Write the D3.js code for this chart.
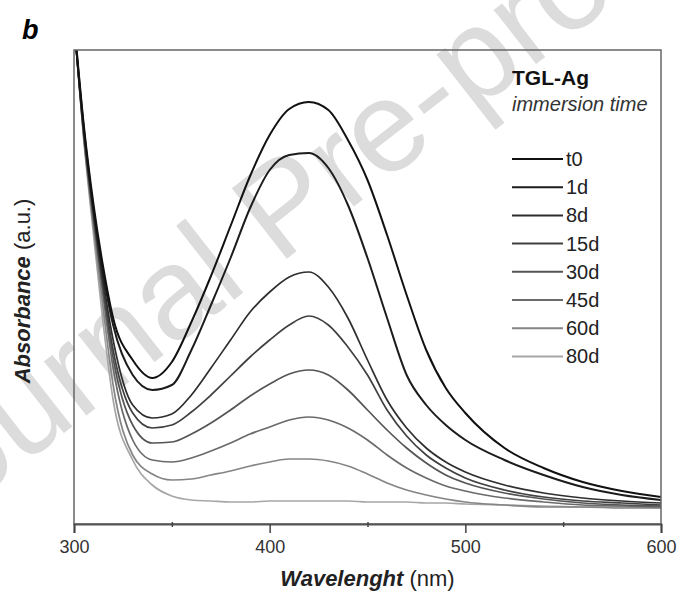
<!DOCTYPE html>
<html>
<head>
<meta charset="utf-8">
<script src="https://cdn.jsdelivr.net/npm/d3@7"></script>
<style>
  body { margin: 0; background: #fff; }
  text { font-family: "Liberation Sans", Arial, sans-serif; }
</style>
</head>
<body>
<script>
// wavelengths (nm) shared by every spectrum
const wavelengths = [300, 305, 310, 315, 320, 330, 340, 350, 360, 370, 380, 390, 400, 410,
                     420, 430, 440, 450, 460, 470, 480, 490, 500, 520, 540, 560, 580, 600];

// absorbance (a.u.)
const t0  = [5.04, 3.99, 3.19, 2.56, 2.06, 1.64, 1.46, 1.62, 2.02, 2.48, 2.98, 3.48, 3.89, 4.15,
             4.22, 4.14, 3.84, 3.44, 2.89, 2.29, 1.74, 1.36, 1.11, 0.76, 0.56, 0.42, 0.33, 0.27];
const d1  = [5.02, 3.96, 3.14, 2.49, 1.99, 1.49, 1.34, 1.39, 1.74, 2.19, 2.66, 3.16, 3.54, 3.69,
             3.71, 3.56, 3.19, 2.66, 2.06, 1.49, 1.19, 0.99, 0.84, 0.64, 0.49, 0.37, 0.29, 0.24];
const d8  = [5.02, 3.94, 3.12, 2.42, 1.84, 1.19, 1.06, 1.10, 1.29, 1.56, 1.84, 2.12, 2.32, 2.47,
             2.52, 2.37, 2.06, 1.64, 1.24, 0.96, 0.76, 0.62, 0.52, 0.39, 0.31, 0.26, 0.23, 0.21];
const d15 = [5.02, 3.92, 3.09, 2.36, 1.74, 1.11, 0.96, 0.99, 1.12, 1.29, 1.48, 1.67, 1.84, 1.99,
             2.08, 1.99, 1.77, 1.49, 1.14, 0.88, 0.69, 0.56, 0.46, 0.34, 0.27, 0.23, 0.21, 0.19];
const d30 = [5.02, 3.90, 3.06, 2.32, 1.66, 0.99, 0.81, 0.82, 0.90, 1.01, 1.14, 1.28, 1.40, 1.50,
             1.54, 1.49, 1.34, 1.14, 0.94, 0.76, 0.61, 0.49, 0.41, 0.31, 0.25, 0.21, 0.19, 0.18];
const d45 = [5.02, 3.88, 3.02, 2.26, 1.56, 0.84, 0.64, 0.62, 0.66, 0.73, 0.81, 0.90, 0.97, 1.04,
             1.07, 1.04, 0.96, 0.84, 0.69, 0.56, 0.46, 0.38, 0.33, 0.26, 0.22, 0.19, 0.18, 0.17];
const d60 = [5.02, 3.86, 2.96, 2.14, 1.39, 0.69, 0.50, 0.44, 0.45, 0.49, 0.53, 0.58, 0.62, 0.65,
             0.65, 0.63, 0.58, 0.50, 0.41, 0.34, 0.29, 0.25, 0.22, 0.19, 0.17, 0.17, 0.16, 0.16];
const d80 = [5.02, 3.84, 2.89, 1.99, 1.24, 0.64, 0.39, 0.28, 0.24, 0.23, 0.22, 0.22, 0.23, 0.23,
             0.23, 0.23, 0.23, 0.22, 0.22, 0.22, 0.21, 0.21, 0.20, 0.19, 0.18, 0.17, 0.17, 0.16];

const seriesNames = ["t0", "1d", "8d", "15d", "30d", "45d", "60d", "80d"];
const seriesValues = [t0, d1, d8, d15, d30, d45, d60, d80];
const seriesColors = ["#111", "#1c1c1c", "#2e2e2e", "#404040", "#555", "#6a6a6a", "#858585", "#a6a6a6"];

const xTicks = [300, 400, 500, 600];
const xMinorTicks = [350, 450, 550];

window.onload = init;

function init() {
  const w = 681;
  const h = 602;
  const left = 74, right = 661, top = 50, bottom = 524;

  const xScale = d3.scaleLinear().domain([300, 600]).range([left, right]);
  const yScale = d3.scaleLinear().domain([0, 4.74]).range([bottom, top]);

  const svg = d3.select("body").append("svg")
                .attr("width", w)
                .attr("height", h);

  // watermark of the source page
  svg.append("text")
     .attr("transform", "translate(-86,550) rotate(-38)")
     .attr("font-size", 130)
     .attr("fill", "#dcdcdc")
     .text("Journal Pre-proof");

  svg.append("defs").append("clipPath").attr("id", "plot-clip")
     .append("rect")
     .attr("x", left).attr("y", top)
     .attr("width", right - left).attr("height", bottom - top);

  const line = d3.line()
                 .x((d, i) => xScale(wavelengths[i]))
                 .y((d) => yScale(d))
                 .curve(d3.curveMonotoneX);

  // lighter curves first so the dark ones sit on top
  const order = d3.range(seriesValues.length).reverse();
  svg.append("g").attr("clip-path", "url(#plot-clip)")
     .selectAll("path")
     .data(order)
     .enter()
     .append("path")
     .attr("d", (i) => line(seriesValues[i]))
     .attr("fill", "none")
     .attr("stroke", (i) => seriesColors[i])
     .attr("stroke-width", (i) => i < 2 ? 2 : 1.7);

  // frame
  svg.append("rect")
     .attr("x", left).attr("y", top)
     .attr("width", right - left).attr("height", bottom - top)
     .attr("fill", "none")
     .attr("stroke", "#666")
     .attr("stroke-width", 1.5);

  const xAxis = d3.axisBottom(xScale).tickValues(xTicks).tickSize(9).tickFormat(d3.format("d"));
  const gx = svg.append("g")
     .attr("id", "x-axis")
     .attr("transform", "translate(0," + bottom + ")")
     .call(xAxis);
  gx.select(".domain").attr("stroke", "#555").attr("stroke-width", 2);
  gx.selectAll(".tick line").attr("stroke", "#444").attr("stroke-width", 1.5);
  gx.selectAll(".tick text")
    .attr("font-size", 18)
    .attr("font-family", "Liberation Sans, Arial, sans-serif")
    .attr("fill", "#333")
    .attr("dy", "0.95em");

  const minorAxis = d3.axisBottom(xScale).tickValues(xMinorTicks).tickSize(5).tickFormat("");
  const gm = svg.append("g")
     .attr("transform", "translate(0," + (bottom - 2) + ")")
     .call(minorAxis);
  gm.select(".domain").remove();
  gm.selectAll(".tick line").attr("stroke", "#444").attr("stroke-width", 1.5);

  // axis titles
  const xt = svg.append("text")
     .attr("x", (left + right) / 2)
     .attr("y", 586)
     .attr("text-anchor", "middle")
     .attr("font-size", 22)
     .attr("fill", "#222");
  xt.append("tspan").attr("font-weight", "bold").attr("font-style", "italic").text("Wavelenght");
  xt.append("tspan").text(" (nm)");

  const yt = svg.append("text")
     .attr("transform", "translate(30," + 291 + ") rotate(-90)")
     .attr("text-anchor", "middle")
     .attr("font-size", 22)
     .attr("fill", "#222");
  yt.append("tspan").attr("font-weight", "bold").attr("font-style", "italic").text("Absorbance");
  yt.append("tspan").text(" (a.u.)");

  // panel letter
  svg.append("text")
     .attr("x", 22).attr("y", 39)
     .attr("font-family", "Liberation Serif, Times New Roman, serif")
     .attr("font-weight", "bold")
     .attr("font-style", "italic")
     .attr("font-size", 27)
     .text("b");

  // legend
  const lg = svg.append("g");
  lg.append("text")
    .attr("x", 512).attr("y", 85)
    .attr("font-weight", "bold")
    .attr("font-size", 21)
    .attr("fill", "#111")
    .text("TGL-Ag");
  lg.append("text")
    .attr("x", 512).attr("y", 111)
    .attr("font-style", "italic")
    .attr("font-size", 20)
    .attr("fill", "#333")
    .text("immersion time");

  const items = lg.selectAll("g.item")
    .data(seriesNames)
    .enter()
    .append("g")
    .attr("class", "item")
    .attr("transform", (d, i) => "translate(0," + (159 + i * 28.2) + ")");
  items.append("line")
    .attr("x1", 512).attr("x2", 563)
    .attr("stroke", (d, i) => seriesColors[i])
    .attr("stroke-width", 2);
  items.append("text")
    .attr("x", 566).attr("y", 7)
    .attr("font-size", 20)
    .attr("fill", "#222")
    .text((d) => d);
}
</script>
</body>
</html>
